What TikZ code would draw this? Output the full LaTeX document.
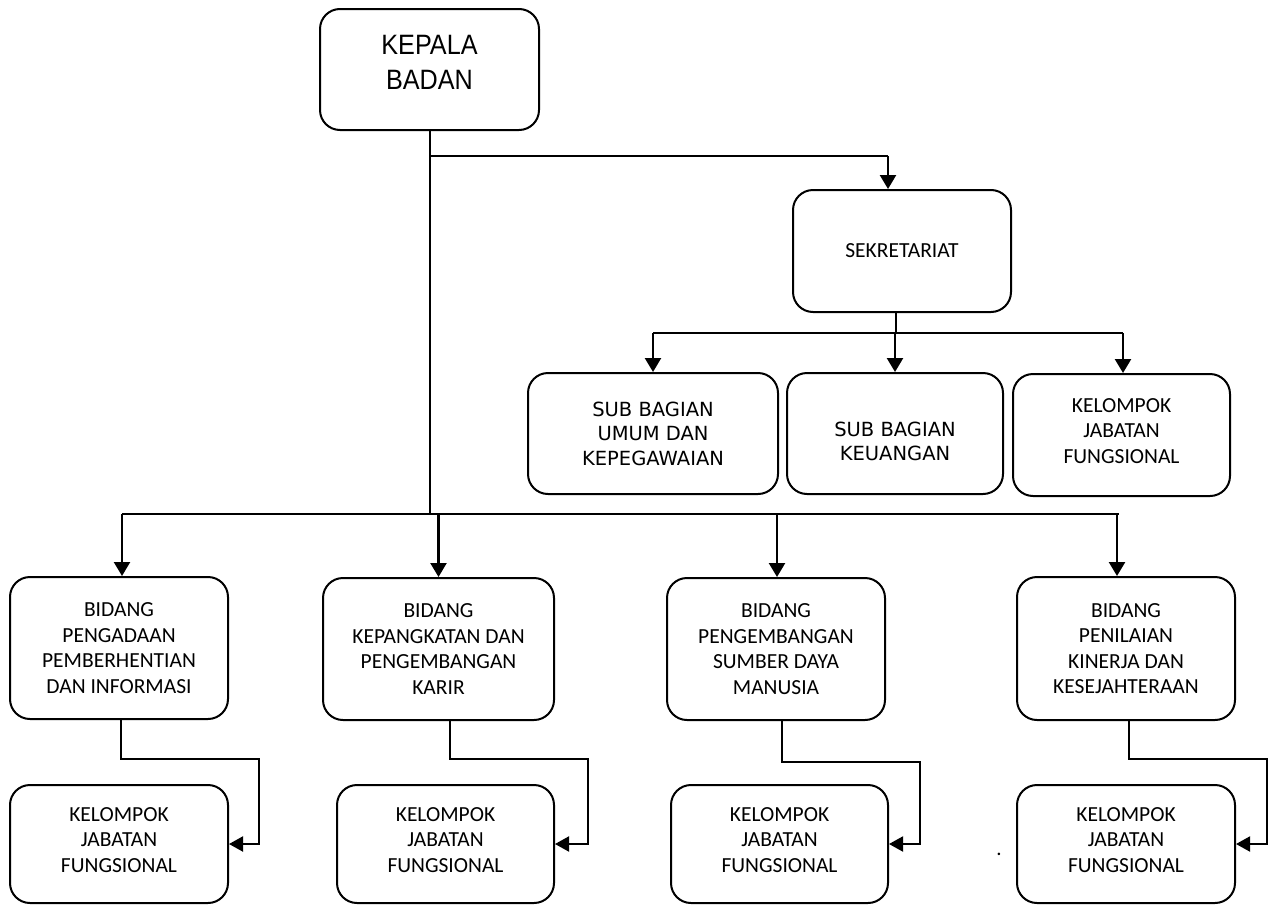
\documentclass[tikz,border=0pt]{standalone}
\usepackage{fontspec}
\usetikzlibrary{arrows.meta}
\newfontfamily\arialf[FakeStretch=0.9]{Liberation Sans}
\newfontfamily\calf{Carlito}
\newfontfamily\tahf{DejaVu Sans}
\tikzset{
  box/.style={draw=black, line width=2pt, rounded corners=20pt, align=center, inner sep=0pt},
  calbox/.style={box, font=\calf\fontsize{21.5}{25.5}\selectfont},
  tahbox/.style={box, font=\tahf\fontsize{19.5}{24.5}\selectfont},
  conn/.style={draw=black, line width=2pt},
  arr/.style={conn, line width=2.4pt, -{Triangle[length=14pt,width=16pt]}},
  sarr/.style={conn, -{Triangle[length=14pt,width=15pt]}}
}
\begin{document}
\begin{tikzpicture}[x=1pt,y=-1pt]
\useasboundingbox (0,0) rectangle (1271,905);

% boxes
\node[box, font=\arialf\fontsize{28}{35}\selectfont, minimum width=219, minimum height=121] (kepala) at (429.5,69.5) {KEPALA\\BADAN\rule[-14pt]{0pt}{14pt}};
\node[calbox, minimum width=218, minimum height=122] (sek) at (902,251) {SEKRETARIAT};

\node[tahbox, minimum width=250, minimum height=121] (sub1) at (653,433.5) {SUB BAGIAN\\UMUM DAN\\KEPEGAWAIAN};
\node[tahbox, minimum width=216, minimum height=121] (sub2) at (895,433.5) {\rule{0pt}{30pt}SUB BAGIAN\\KEUANGAN};
\node[calbox, minimum width=217, minimum height=122] (sub3) at (1121.5,435) {KELOMPOK\\JABATAN\\FUNGSIONAL\rule[-8pt]{0pt}{8pt}};

\node[calbox, minimum width=218, minimum height=142] (b1) at (119,648) {BIDANG\\PENGADAAN\\PEMBERHENTIAN\\DAN INFORMASI};
\node[calbox, minimum width=231, minimum height=142] (b2) at (438.5,649) {BIDANG\\KEPANGKATAN DAN\\PENGEMBANGAN\\KARIR};
\node[calbox, minimum width=218, minimum height=142] (b3) at (776,649) {BIDANG\\PENGEMBANGAN\\SUMBER DAYA\\MANUSIA};
\node[calbox, minimum width=218, minimum height=143] (b4) at (1126,648.5) {BIDANG\\PENILAIAN\\KINERJA DAN\\KESEJAHTERAAN};

\node[calbox, minimum width=218, minimum height=118] (k1) at (119,844) {KELOMPOK\\JABATAN\\FUNGSIONAL\rule[-8pt]{0pt}{8pt}};
\node[calbox, minimum width=217, minimum height=118] (k2) at (445.5,844) {KELOMPOK\\JABATAN\\FUNGSIONAL\rule[-8pt]{0pt}{8pt}};
\node[calbox, minimum width=217, minimum height=118] (k3) at (779.5,844) {KELOMPOK\\JABATAN\\FUNGSIONAL\rule[-8pt]{0pt}{8pt}};
\node[calbox, minimum width=218, minimum height=118] (k4) at (1126,844) {KELOMPOK\\JABATAN\\FUNGSIONAL\rule[-8pt]{0pt}{8pt}};

\node[font=\calf\fontsize{21}{25}\selectfont, anchor=base, inner sep=0pt] (dot) at (999,855) {.};

% coordinates
\coordinate (bus) at (0,514);
\coordinate (top) at (0,156);
\coordinate (sbus) at (0,333);

% main trunk
\draw[conn] (kepala.south) -- (kepala.south |- bus);
\draw[conn] (kepala.south |- top) -- ([xshift=-14pt]sek.north |- top);
\draw[arr] ([xshift=-14pt]sek.north |- top) -- ([xshift=-14pt]sek.north);

% secretariat branch
\draw[conn] ([xshift=-6pt]sek.south) -- ([xshift=-6pt]sek.south |- sbus);
\draw[conn] (sub1.north |- sbus) -- ([xshift=1.5pt]sub3.north |- sbus);
\draw[arr] (sub1.north |- sbus) -- (sub1.north);
\draw[arr] (sub2.north |- sbus) -- (sub2.north);
\draw[arr] ([xshift=1.5pt]sub3.north |- sbus) -- ([xshift=1.5pt]sub3.north);

% bidang bus
\draw[conn] ([xshift=3pt]b1.north |- bus) -- ([xshift=-7pt]b4.north |- bus);
\draw[arr] ([xshift=3pt]b1.north |- bus) -- ([xshift=3pt]b1.north);
\draw[arr] (b2.north |- bus) -- (b2.north);
\draw[arr] ([xshift=1pt]b3.north |- bus) -- ([xshift=1pt]b3.north);
\draw[arr] ([xshift=-9pt]b4.north |- bus) -- ([xshift=-9pt]b4.north);

% elbows to kelompok
\draw[sarr] ([xshift=2pt]b1.south) |- (259,759) |- (k1.east);
\draw[sarr] ([xshift=11.5pt]b2.south) |- (588,759) |- (k2.east);
\draw[sarr] ([xshift=6pt]b3.south) |- (920,762) |- (k3.east);
\draw[sarr] ([xshift=3pt]b4.south) |- (1267,759) |- (k4.east);
\end{tikzpicture}
\end{document}
